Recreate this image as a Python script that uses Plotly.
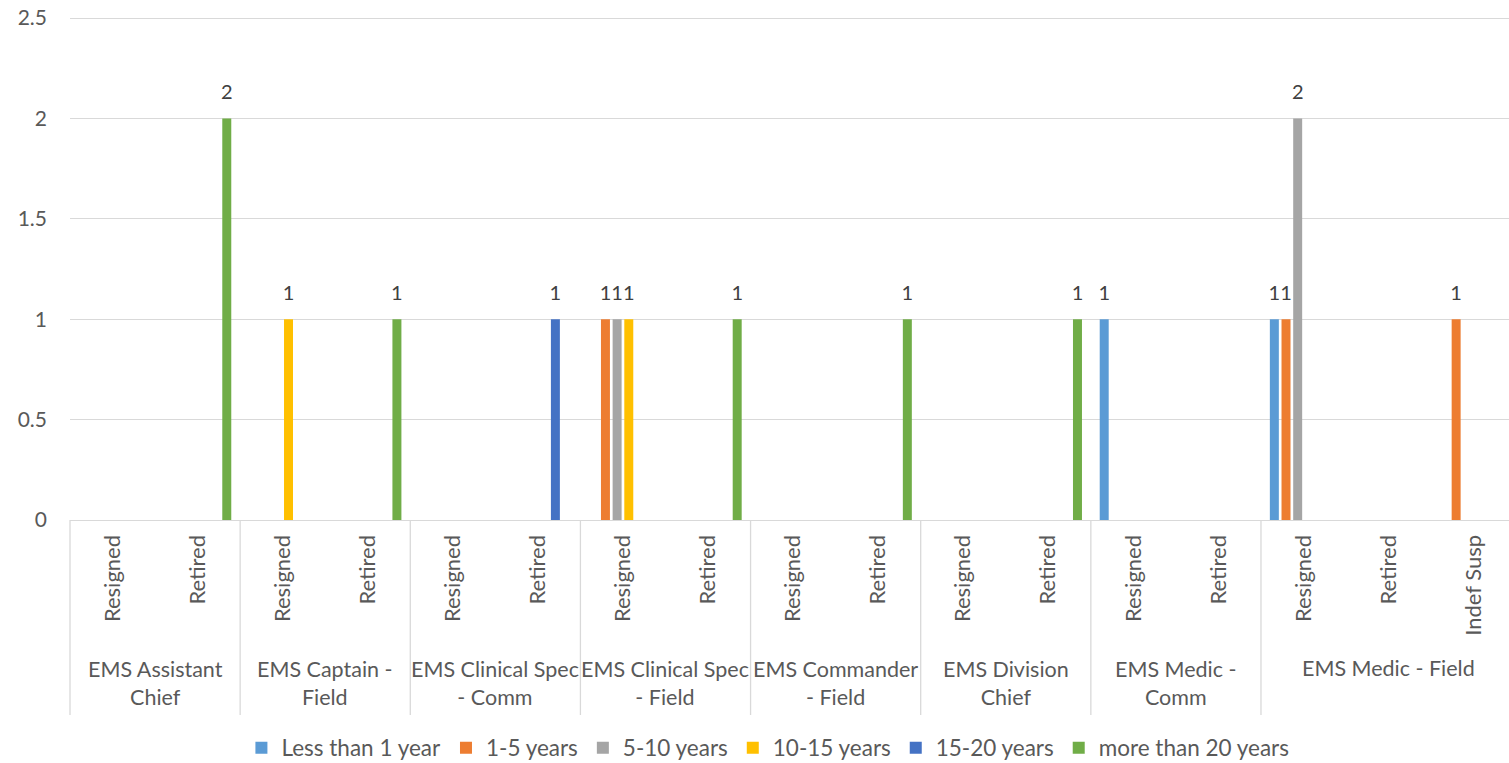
import plotly.graph_objects as go

# ---- data ----
groups = ["EMS Assistant<br>Chief", "EMS Captain -<br>Field", "EMS Clinical Spec<br>- Comm",
          "EMS Clinical Spec<br>- Field", "EMS Commander<br>- Field", "EMS Division<br>Chief",
          "EMS Medic -<br>Comm", "EMS Medic - Field"]
group_sizes = [2, 2, 2, 2, 2, 2, 2, 3]
subcats = ["Resigned", "Retired", "Resigned", "Retired", "Resigned", "Retired",
           "Resigned", "Retired", "Resigned", "Retired", "Resigned", "Retired",
           "Resigned", "Retired", "Resigned", "Retired", "Indef Susp"]

series_names = ["Less than 1 year", "1-5 years", "5-10 years", "10-15 years",
                "15-20 years", "more than 20 years"]
N = None
less_1 = [N, N, N, N, N, N, N, N, N, N, N, N, 1, N, 1, N, N]
y1_5 = [N, N, N, N, N, N, 1, N, N, N, N, N, N, N, 1, N, 1]
y5_10 = [N, N, N, N, N, N, 1, N, N, N, N, N, N, N, 2, N, N]
y10_15 = [N, N, 1, N, N, N, 1, N, N, N, N, N, N, N, N, N, N]
y15_20 = [N, N, N, N, N, 1, N, N, N, N, N, N, N, N, N, N, N]
more_20 = [N, 2, N, 1, N, N, N, 1, N, 1, N, 1, N, N, N, N, N]
series_values = [less_1, y1_5, y5_10, y10_15, y15_20, more_20]
colors = ["#5B9BD5", "#ED7D31", "#A5A5A5", "#FFC000", "#4472C4", "#70AD47"]
y_ticks = [0, 0.5, 1, 1.5, 2, 2.5]
y_ticktext = ["0", "0.5", "1", "1.5", "2", "2.5"]

FONT = "Lato"
TXT = "#595959"
GRID = "#D9D9D9"
BARGAP = 0.177

xs = list(range(len(subcats)))
fig = go.Figure()
for name, vals, col in zip(series_names, series_values, colors):
    fig.add_trace(go.Bar(
        x=xs, y=vals, name=name, marker=dict(color=col, line=dict(width=0)),
    ))
# data labels, aligned with the bar slots through scatter grouping
for name, vals in zip(series_names, series_values):
    fig.add_trace(go.Scatter(
        x=xs, y=vals, mode="markers+text", showlegend=False, hoverinfo="skip",
        text=[("%g" % v) if v is not None else "" for v in vals],
        textposition="top center", cliponaxis=False,
        marker=dict(size=21, opacity=0, color="white"),
        textfont=dict(family=FONT, size=20, color="#404040"),
    ))

W, H = 1509, 763
EXTRA = 2  # px above the 2.5 gridline so it is not clipped at the plot edge
ml, mr, mt, mb = 70, 0, 18 - EXTRA, 243
plot_h = H - mt - mb
ymax = 2.5 * plot_h / (plot_h - EXTRA)
cat_px = 85.07
xmax = -0.5 + (W - ml - mr) / cat_px

def py(pix_below_axis):
    return -pix_below_axis / plot_h

# group labels and dividers
shapes = []
annotations = []
start = 0
shapes.append(dict(type="line", xref="paper", yref="paper", x0=0, x1=0, y0=0, y1=py(195),
                   line=dict(color=GRID, width=1.3)))
for g, n in zip(groups, group_sizes):
    center = start + (n - 1) / 2
    annotations.append(dict(x=center, xref="x", y=py(163) if "<br>" in g else py(148),
                            yref="paper", text=g, showarrow=False, yanchor="middle",
                            font=dict(family=FONT, size=21.5, color=TXT)))
    end = start + n - 0.5
    shapes.append(dict(type="line", xref="x", yref="paper", x0=end, x1=end, y0=0, y1=py(195),
                       line=dict(color=GRID, width=1.3)))
    start += n

fig.update_layout(
    width=W, height=H,
    margin=dict(l=ml, r=mr, t=mt, b=mb, autoexpand=False),
    paper_bgcolor="white", plot_bgcolor="white",
    barmode="group", bargap=BARGAP, bargroupgap=0.23,
    scattermode="group", scattergap=BARGAP,
    font=dict(family=FONT, size=21, color=TXT),
    showlegend=True,
    legend=dict(orientation="h", x=0.485, xanchor="center", y=py(228), yanchor="middle",
                font=dict(family=FONT, size=22.5, color=TXT), itemwidth=30,
                traceorder="normal"),
    shapes=shapes, annotations=annotations,
    xaxis=dict(range=[-0.5, xmax], tickmode="array", tickvals=xs, ticktext=subcats,
               tickangle=-90, showgrid=False, zeroline=False, showline=True,
               linecolor=GRID, linewidth=1.3, ticks="", ticklabelstandoff=5,
               automargin=False,
               tickfont=dict(family=FONT, size=22, color=TXT)),
    yaxis=dict(range=[0, ymax], tickmode="array", tickvals=y_ticks, ticktext=y_ticktext,
               showgrid=True, gridcolor=GRID, gridwidth=1.3, zeroline=False,
               showline=False, ticks="", ticklabelstandoff=22, automargin=False,
               ticklabeloverflow="allow",
               tickfont=dict(family=FONT, size=21, color=TXT)),
)

fig.write_html("out.html", config={"displayModeBar": False},
               post_script="document.body.style.margin='0';document.body.style.overflow='hidden';")
